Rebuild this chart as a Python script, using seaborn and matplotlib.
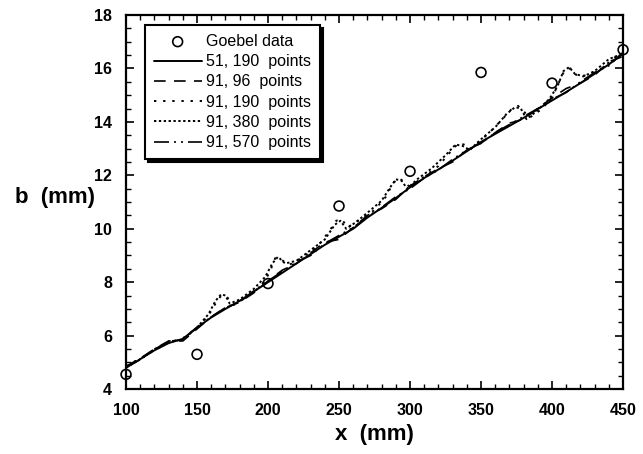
import numpy as np
import pandas as pd
import matplotlib
matplotlib.use("Agg")
import matplotlib.pyplot as plt
from matplotlib.ticker import MultipleLocator
import seaborn as sns

# Goebel measured points
goebel_x = [100, 150, 200, 250, 300, 350, 400, 450]
goebel_b = [4.55, 5.3, 7.95, 10.85, 12.15, 15.85, 15.45, 16.7]

# 51, 190 points (solid)
x_51_190 = list(range(100, 451, 10))
b_51_190 = [4.80, 5.12, 5.45, 5.72, 5.88, 6.30, 6.68, 7.00, 7.30, 7.65,
            8.00, 8.35, 8.70, 9.05, 9.40, 9.70, 10.00, 10.42, 10.78, 11.15,
            11.55, 11.90, 12.22, 12.55, 12.90, 13.25, 13.55, 13.85, 14.15, 14.48,
            14.80, 15.12, 15.45, 15.80, 16.15, 16.55]

# 91, 96 points (dashed)
x_91_96 = list(range(100, 451, 10))
b_91_96 = [4.85, 5.15, 5.50, 5.80, 5.80, 6.25, 6.70, 7.05, 7.25, 7.60,
           8.05, 8.45, 8.70, 9.10, 9.50, 9.60, 10.05, 10.50, 10.75, 11.10,
           11.60, 11.95, 12.25, 12.50, 12.95, 13.20, 13.60, 13.95, 14.10, 14.50,
           14.90, 15.25, 15.45, 15.75, 16.25, 16.45]

# 91, 190 points (sparse dots)
x_91_190 = [100, 110, 120, 130, 140, 150, 158, 163, 167, 171, 176, 185, 195, 201, 205, 209,
            215, 225, 235, 243, 248, 252, 256, 265, 275, 283, 288, 292, 296, 300, 310, 320,
            328, 334, 338, 343, 355, 365, 371, 376, 380, 384, 392, 400, 405, 409, 413, 418,
            425, 435, 445, 450]
b_91_190 = [4.85, 5.15, 5.45, 5.75, 5.90, 6.30, 6.75, 7.20, 7.50, 7.45, 7.15, 7.45, 7.85, 8.35, 8.90, 8.85,
            8.65, 8.95, 9.35, 9.90, 10.30, 10.35, 10.05, 10.35, 10.70, 11.20, 11.70, 11.90, 11.75, 11.55, 11.95, 12.35,
            12.85, 13.20, 13.15, 13.00, 13.55, 14.10, 14.45, 14.60, 14.40, 14.15, 14.45, 14.90, 15.50, 15.95, 16.00, 15.70,
            15.75, 16.00, 16.45, 16.60]

# 91, 380 points (dense dots)
x_91_380 = [100, 110, 120, 130, 140, 150, 158, 163, 167, 170, 173, 180, 190, 198, 203, 207,
            212, 220, 230, 240, 247, 251, 255, 262, 270, 280, 286, 290, 294, 298, 305, 315,
            325, 332, 337, 342, 350, 360, 368, 374, 378, 382, 388, 398, 404, 408, 412, 416,
            422, 430, 440, 450]
b_91_380 = [4.80, 5.12, 5.48, 5.78, 5.85, 6.30, 6.80, 7.30, 7.55, 7.50, 7.20, 7.35, 7.75, 8.20, 8.70, 8.95,
            8.70, 8.80, 9.20, 9.60, 10.15, 10.30, 10.00, 10.25, 10.60, 11.05, 11.55, 11.85, 11.80, 11.50, 11.85, 12.25,
            12.75, 13.15, 13.10, 12.95, 13.35, 13.80, 14.30, 14.55, 14.50, 14.10, 14.35, 14.85, 15.35, 15.90, 16.05, 15.80,
            15.70, 15.90, 16.35, 16.55]

# 91, 570 points (dash-dot-dot)
x_91_570 = list(range(100, 451, 10))
b_91_570 = [4.82, 5.10, 5.50, 5.75, 5.85, 6.32, 6.70, 7.05, 7.25, 7.68,
            8.05, 8.40, 8.75, 9.00, 9.45, 9.75, 10.05, 10.45, 10.80, 11.20,
            11.50, 11.90, 12.20, 12.60, 12.95, 13.20, 13.60, 13.90, 14.20, 14.50,
            14.85, 15.10, 15.50, 15.85, 16.10, 16.60]

series = [
    ("51, 190  points", x_51_190, b_51_190, "-", 1.4),
    ("91, 96  points", x_91_96, b_91_96, (0, (7, 5)), 1.2),
    ("91, 190  points", x_91_190, b_91_190, (0, (1.2, 3.5)), 1.4),
    ("91, 380  points", x_91_380, b_91_380, (0, (1.2, 1.3)), 1.4),
    ("91, 570  points", x_91_570, b_91_570, (0, (9, 3, 1.2, 3, 1.2, 3)), 1.2),
]

sns.set_style("ticks")
plt.rcParams['font.family'] = ['Liberation Sans', 'DejaVu Sans']
plt.rcParams['text.color'] = 'black'
plt.rcParams['axes.labelcolor'] = 'black'
plt.rcParams['xtick.color'] = 'black'
plt.rcParams['ytick.color'] = 'black'

fig = plt.figure(figsize=(6.43, 4.54), dpi=100)
ax = fig.add_axes([0.196, 0.143, 0.773, 0.824])

sns.scatterplot(x=goebel_x, y=goebel_b, ax=ax, s=50, marker="o",
                facecolor="none", edgecolor="black", linewidth=1.2,
                label="Goebel data", zorder=5, clip_on=False)

for name, xs, bs, ls, lw in series:
    df = pd.DataFrame({"x": xs, "b": bs})
    sns.lineplot(data=df, x="x", y="b", ax=ax, color="black", linestyle=ls,
                 linewidth=lw, label=name, sort=False, estimator=None)

ax.set_xlim(100, 450)
ax.set_ylim(4, 18)
ax.xaxis.set_major_locator(MultipleLocator(50))
ax.xaxis.set_minor_locator(MultipleLocator(10))
ax.yaxis.set_major_locator(MultipleLocator(2))
ax.yaxis.set_minor_locator(MultipleLocator(0.5))
ax.tick_params(which="both", direction="in", top=True, right=True, color="black")
ax.tick_params(which="major", length=6, width=1.2, labelsize=11.5, pad=10)
ax.tick_params(which="minor", length=3.5, width=1.0)
for lab in ax.get_xticklabels() + ax.get_yticklabels():
    lab.set_fontweight("bold")
for sp in ax.spines.values():
    sp.set_linewidth(1.6)
    sp.set_color("black")

ax.set_xlabel("x  (mm)", fontsize=16, fontweight="bold", labelpad=4)
ax.set_ylabel("b  (mm)", fontsize=16, fontweight="bold", rotation=0)
ax.yaxis.label.set_verticalalignment("center")
ax.yaxis.set_label_coords(-0.143, 0.513)

leg = ax.legend(loc="upper left", bbox_to_anchor=(0.038, 0.973), fontsize=11.5,
                frameon=True, fancybox=False, edgecolor="black", framealpha=1,
                handlelength=3.0, handletextpad=0.3, labelspacing=0.33,
                borderpad=0.55, borderaxespad=0,
                shadow={"ox": 2, "oy": -2, "color": "black", "alpha": 1})
leg.get_frame().set_linewidth(1.5)

fig.savefig("out.png", dpi=100)
